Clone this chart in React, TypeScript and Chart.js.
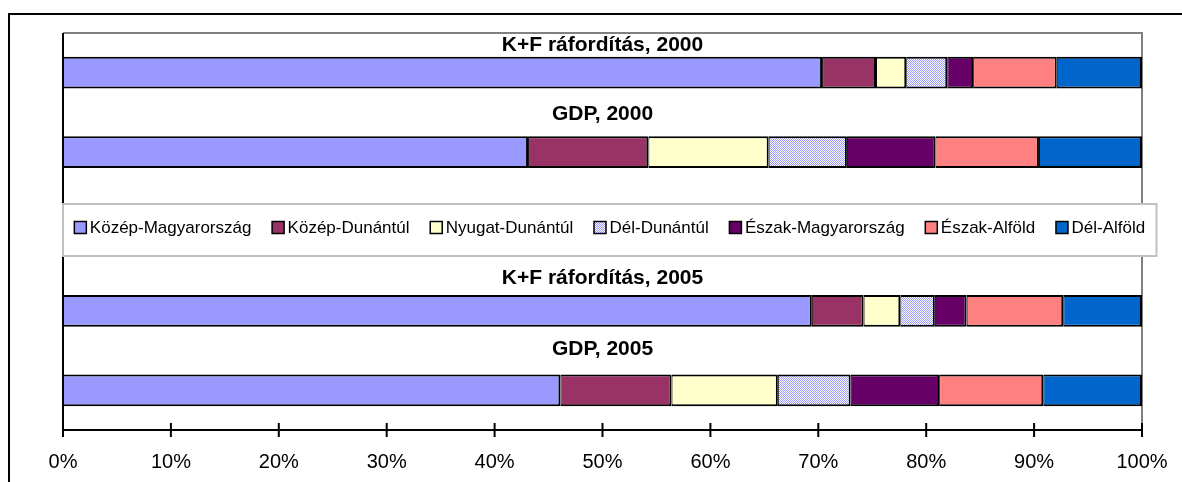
import React, { useEffect, useRef } from 'react';
import { Chart, registerables } from 'chart.js';

Chart.register(...registerables);

// ---- data ----
const categories = ['K+F ráfordítás, 2000', 'GDP, 2000', '', 'K+F ráfordítás, 2005', 'GDP, 2005'];
const regionNames = [
  'Közép-Magyarország',
  'Közép-Dunántúl',
  'Nyugat-Dunántúl',
  'Dél-Dunántúl',
  'Észak-Magyarország',
  'Észak-Alföld',
  'Dél-Alföld',
];
const kozepMagyarorszag = [70.35, 43.1, null, 69.4, 46.1];
const kozepDunantul = [5.0, 11.15, null, 4.8, 10.3];
const nyugatDunantul = [2.8, 11.15, null, 3.4, 9.85];
const delDunantul = [3.8, 7.25, null, 3.2, 6.75];
const eszakMagyarorszag = [2.4, 8.2, null, 2.95, 8.2];
const eszakAlfold = [7.75, 9.6, null, 8.95, 9.65];
const delAlfold = [7.9, 9.55, null, 7.3, 9.15];
const xTickValues = [0, 10, 20, 30, 40, 50, 60, 70, 80, 90, 100];

const seriesValues = [
  kozepMagyarorszag,
  kozepDunantul,
  nyugatDunantul,
  delDunantul,
  eszakMagyarorszag,
  eszakAlfold,
  delAlfold,
];

const FONT = '"Liberation Sans", Arial, Helvetica, sans-serif';
const titleBaselineOffsets = [-22, -32, 0, -27, -35];

function makeChecker(): CanvasPattern | string {
  const pc = document.createElement('canvas');
  pc.width = 2;
  pc.height = 2;
  const pctx = pc.getContext('2d');
  if (!pctx) return '#CCCCFF';
  pctx.fillStyle = '#FFFFFF';
  pctx.fillRect(0, 0, 2, 2);
  pctx.fillStyle = '#9999FF';
  pctx.fillRect(0, 0, 1, 1);
  pctx.fillRect(1, 1, 1, 1);
  const p = pctx.createPattern(pc, 'repeat');
  return p || '#CCCCFF';
}

const framePlugin = {
  id: 'frame',
  beforeDraw(chart: any) {
    const ctx = chart.ctx;
    const { left, right, top, bottom } = chart.chartArea;
    ctx.save();
    ctx.fillStyle = '#FFFFFF';
    ctx.fillRect(0, 0, chart.width, chart.height);
    // outer frame (top and left visible)
    ctx.strokeStyle = '#000000';
    ctx.lineWidth = 2;
    ctx.beginPath();
    ctx.moveTo(9, chart.height + 5);
    ctx.lineTo(9, 14);
    ctx.lineTo(chart.width + 5, 14);
    ctx.stroke();
    // plot area gray top/right
    ctx.strokeStyle = '#808080';
    ctx.lineWidth = 2;
    ctx.beginPath();
    ctx.moveTo(left, top);
    ctx.lineTo(right, top);
    ctx.lineTo(right, bottom);
    ctx.stroke();
    ctx.restore();
  },
  afterDatasetsDraw(chart: any) {
    const ctx = chart.ctx;
    const { left, right, top, bottom } = chart.chartArea;
    const xs = chart.scales.x;
    const ys = chart.scales.y;
    ctx.save();
    // axes
    ctx.strokeStyle = '#000000';
    ctx.lineWidth = 2;
    ctx.beginPath();
    ctx.moveTo(left, top);
    ctx.lineTo(left, bottom);
    ctx.moveTo(left - 1, bottom);
    ctx.lineTo(right + 1, bottom);
    ctx.stroke();
    // tick marks crossing axis
    ctx.beginPath();
    xTickValues.forEach((v) => {
      const x = xs.getPixelForValue(v);
      ctx.moveTo(x, bottom - 7);
      ctx.lineTo(x, bottom + 7);
    });
    ctx.stroke();
    // category titles above bars
    ctx.fillStyle = '#000000';
    ctx.font = `bold 21px ${FONT}`;
    ctx.textAlign = 'center';
    ctx.textBaseline = 'alphabetic';
    const cx = (left + right) / 2;
    categories.forEach((c, i) => {
      if (!c) return;
      const cy = ys.getPixelForValue(i);
      ctx.fillText(c, cx, cy + titleBaselineOffsets[i]);
    });
    // legend in the empty slot
    const midY = ys.getPixelForValue(2);
    const boxTop = midY - 27.5;
    const boxBottom = midY + 24.5;
    const boxLeft = left;
    const boxRight = right + 14.5;
    ctx.fillStyle = '#FFFFFF';
    ctx.fillRect(boxLeft, boxTop, boxRight - boxLeft, boxBottom - boxTop);
    ctx.strokeStyle = '#C0C0C0';
    ctx.lineWidth = 2;
    ctx.strokeRect(boxLeft, boxTop, boxRight - boxLeft, boxBottom - boxTop);
    ctx.font = `17px ${FONT}`;
    ctx.textAlign = 'left';
    ctx.textBaseline = 'middle';
    const sq = 12;
    const sqGap = 3.5;
    const itemGap = 20.7;
    const datasets = chart.data.datasets;
    const widths = datasets.map((d: any) => ctx.measureText(d.label).width);
    let total = 0;
    widths.forEach((w: number) => (total += sq + sqGap + w));
    total += itemGap * (datasets.length - 1);
    let x = (boxLeft + boxRight) / 2 - total / 2;
    const textY = midY - 4;
    datasets.forEach((d: any, i: number) => {
      ctx.fillStyle = d.backgroundColor;
      ctx.fillRect(x, textY - sq / 2, sq, sq);
      ctx.strokeStyle = '#000000';
      ctx.lineWidth = 1.5;
      ctx.strokeRect(x, textY - sq / 2, sq, sq);
      ctx.fillStyle = '#000000';
      ctx.fillText(d.label, x + sq + sqGap, textY + 1);
      x += sq + sqGap + widths[i] + itemGap;
    });
    ctx.restore();
  },
};

export default function App() {
  const canvasRef = useRef<HTMLCanvasElement | null>(null);

  useEffect(() => {
    if (!canvasRef.current) return;
    const checker = makeChecker();
    const colors: any[] = ['#9999FF', '#993366', '#FFFFCC', checker, '#660066', '#FF8080', '#0066CC'];
    const chart = new Chart(canvasRef.current, {
      type: 'bar',
      data: {
        labels: categories,
        datasets: regionNames.map((name, i) => ({
          label: name,
          data: seriesValues[i] as any,
          backgroundColor: colors[i],
          borderColor: '#000000',
          borderWidth: { top: 2, bottom: 2, left: 1, right: 2 } as any,
          borderSkipped: false as any,
          barPercentage: 0.4,
          categoryPercentage: 1,
        })),
      },
      options: {
        indexAxis: 'y',
        animation: false,
        responsive: true,
        maintainAspectRatio: false,
        devicePixelRatio: 1,
        layout: { padding: { left: 63, right: 40, top: 33, bottom: 0 } },
        plugins: {
          legend: { display: false },
          tooltip: { enabled: false },
          title: { display: false },
        },
        scales: {
          x: {
            type: 'linear',
            stacked: true,
            min: 0,
            max: 100,
            grid: { display: false, drawTicks: false },
            border: { display: false },
            afterBuildTicks: (scale: any) => {
              scale.ticks = xTickValues.map((v) => ({ value: v }));
            },
            afterFit: (scale: any) => {
              scale.height = 52;
              scale.paddingLeft = 0;
              scale.paddingRight = 0;
            },
            ticks: {
              padding: 20,
              color: '#000000',
              font: { family: FONT, size: 20 },
              callback: (v: any) => `${v}%`,
              maxRotation: 0,
              autoSkip: false,
            },
          },
          y: {
            stacked: true,
            grid: { display: false, drawTicks: false },
            border: { display: false },
            ticks: { display: false },
            afterFit: (scale: any) => {
              scale.width = 0;
            },
          },
        },
      },
      plugins: [framePlugin],
    });
    return () => chart.destroy();
  }, []);

  return (
    <div style={{ position: 'absolute', left: 0, top: 0, width: 1182, height: 482, background: '#fff' }}>
      <canvas ref={canvasRef} />
    </div>
  );
}
